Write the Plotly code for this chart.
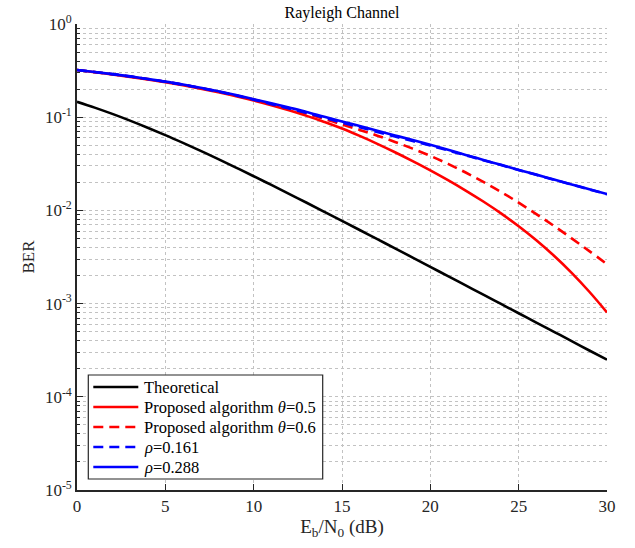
import plotly.graph_objects as go

ebn0 = list(range(0, 31))

theoretical = [0.1464, 0.1267, 0.1085, 0.0919, 0.0771, 0.0642, 0.0530, 0.0435, 0.0355, 0.0288,
               0.02327, 0.01875, 0.01506, 0.01208, 0.00966, 0.00772, 0.00616, 0.00491, 0.00392,
               0.00312, 0.00248, 0.00197, 0.001567, 0.001247, 0.000991, 0.000788, 0.000626,
               0.000498, 0.000396, 0.000314, 0.000250]

prop_05 = [0.3206, 0.3041, 0.2877, 0.2710, 0.2541, 0.2371, 0.2198, 0.2023, 0.1849, 0.1679,
           0.1510, 0.1346, 0.1186, 0.1033, 0.0889, 0.0757, 0.0630, 0.0518, 0.0421, 0.0338,
           0.0269, 0.0211, 0.01633, 0.01245, 0.00929, 0.00676, 0.00478, 0.00326, 0.00214,
           0.00134, 0.000804]

prop_06 = [0.3206, 0.3048, 0.2891, 0.2729, 0.2564, 0.2399, 0.2228, 0.2056, 0.1884, 0.1714,
           0.1545, 0.1384, 0.1233, 0.1091, 0.0959, 0.0836, 0.0731, 0.0634, 0.0543, 0.0460,
           0.0385, 0.0316, 0.0255, 0.0202, 0.0158, 0.0121, 0.00914, 0.00681, 0.00501,
           0.00366, 0.00265]

rho_0161 = [0.321, 0.305, 0.290, 0.274, 0.257, 0.240, 0.223, 0.205, 0.188, 0.171,
            0.154, 0.138, 0.124, 0.111, 0.0985, 0.0875, 0.0780, 0.0695, 0.0620, 0.0555,
            0.0496, 0.0441, 0.0390, 0.0346, 0.0307, 0.0271, 0.0241, 0.0213, 0.0189,
            0.0168, 0.0149]

rho_0288 = [0.321, 0.305, 0.290, 0.274, 0.257, 0.241, 0.224, 0.207, 0.190, 0.173,
            0.156, 0.141, 0.127, 0.114, 0.101, 0.0899, 0.0804, 0.0714, 0.0637, 0.0568,
            0.0505, 0.0447, 0.0394, 0.0348, 0.0308, 0.0272, 0.0242, 0.0214, 0.0190,
            0.0169, 0.0150]

series_names = ["Theoretical", "Proposed algorithm <i>θ</i>=0.5", "Proposed algorithm <i>θ</i>=0.6",
                "<i>ρ</i>=0.161", "<i>ρ</i>=0.288"]

y_exponents = [-5, -4, -3, -2, -1, 0]
y_tickvals = [10.0 ** e for e in y_exponents]
y_ticktext = ["10<sup>%d</sup>" % e for e in y_exponents]
y_minor = [m * 10.0 ** e for e in y_exponents[:-1] for m in range(2, 10)]
x_tickvals = [0, 5, 10, 15, 20, 25, 30]

FONT = "Liberation Serif, Times New Roman, serif"
GRID = "#c2c2c2"
AX = "#262626"
W, H = 635, 548
PL, PR, PT, PB = 77, 607, 24, 490  # plot area in page pixels
DASH = "10px,6px"

styles = [
    dict(color="black", width=2.6),
    dict(color="#ff0000", width=2.6),
    dict(color="#ff0000", width=2.6, dash=DASH),
    dict(color="#0000ff", width=2.6, dash=DASH),
    dict(color="#0000ff", width=2.6),
]
series = [theoretical, prop_05, prop_06, rho_0161, rho_0288]

fig = go.Figure()
for name, ys, st in zip(series_names, series, styles):
    fig.add_trace(go.Scatter(x=ebn0, y=ys, mode="lines", name=name, showlegend=False,
                             line=dict(shape="spline", smoothing=1.0, **st)))


def px2paper(px, py):
    return (px - PL) / (PR - PL), (PB - py) / (PB - PT)


# MATLAB-like legend box
x0, y0 = px2paper(88.3, 479)
x1, y1 = px2paper(322.7, 375)
fig.add_shape(type="rect", xref="paper", yref="paper", x0=x0, y0=y0, x1=x1, y1=y1,
              line=dict(color=AX, width=1.2), fillcolor="white", layer="above")
for i, (name, st) in enumerate(zip(series_names, styles)):
    py = 387 + i * 20
    sx0, sy = px2paper(93.3, py)
    sx1, _ = px2paper(138.3, py)
    fig.add_shape(type="line", xref="paper", yref="paper", x0=sx0, x1=sx1, y0=sy, y1=sy,
                  line=st, layer="above")
    tx, _ = px2paper(142.7, py)
    fig.add_annotation(xref="paper", yref="paper", x=tx, y=sy, text=name, showarrow=False,
                       xanchor="left", yanchor="middle", xshift=-1,
                       font=dict(family=FONT, size=16.5, color="black"))

fig.update_layout(
    width=W, height=H,
    margin=dict(l=PL, r=W - PR, t=PT, b=H - PB, autoexpand=False),
    paper_bgcolor="white", plot_bgcolor="white",
    font=dict(family=FONT, size=17, color=AX),
    title=dict(text="Rayleigh Channel", x=(PL + PR) / 2 / W, xanchor="center",
               xref="container", y=1 - 12 / H, yanchor="middle", yref="container",
               font=dict(family=FONT, size=16, color="black")),
    showlegend=False,
    xaxis=dict(range=[0, 30], tickvals=x_tickvals, ticks="inside", ticklen=6, tickwidth=1,
               tickcolor=AX, showline=True, linecolor=AX, linewidth=1.6, mirror=False,
               showgrid=True, gridcolor=GRID, griddash="dot", gridwidth=1, zeroline=False,
               automargin=False,
               title=dict(text="E<sub>b</sub>/N<sub>0</sub> (dB)", standoff=2,
                          font=dict(family=FONT, size=19, color=AX)),
               tickfont=dict(family=FONT, size=17, color=AX)),
    yaxis=dict(type="log", range=[-5, 0], tickvals=y_tickvals, ticktext=y_ticktext,
               ticks="inside", ticklen=6, tickwidth=1, tickcolor=AX,
               showline=True, linecolor=AX, linewidth=1.6, mirror=False,
               showgrid=True, gridcolor=GRID, griddash="dot", gridwidth=1, zeroline=False,
               automargin=False,
               minor=dict(tickvals=y_minor, ticks="inside", ticklen=3.5, tickcolor=AX,
                          showgrid=True, gridcolor=GRID, griddash="dot", gridwidth=1),
               title=dict(text="BER", standoff=6, font=dict(family=FONT, size=17, color=AX)),
               tickfont=dict(family=FONT, size=17, color=AX)),
)

fig.write_html("out.html", config={"displayModeBar": False},
               post_script="document.body.style.margin='0px';document.body.style.padding='0px';")
